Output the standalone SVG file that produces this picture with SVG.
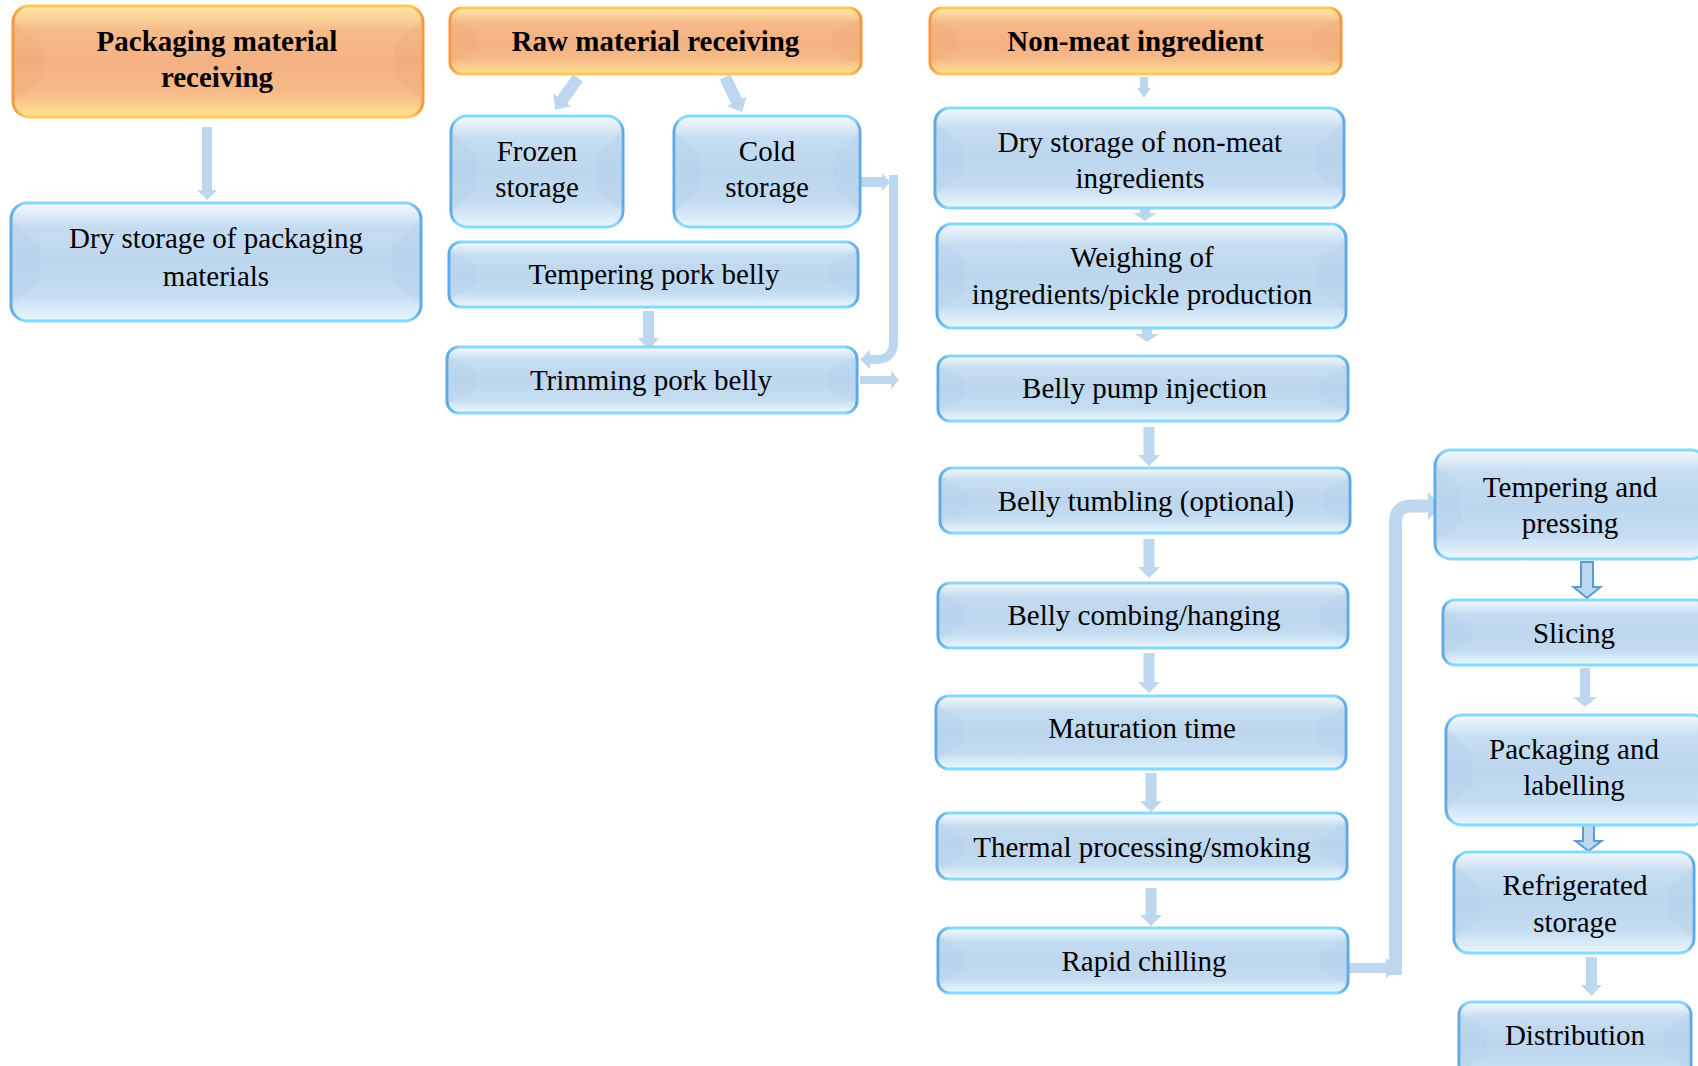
<svg xmlns="http://www.w3.org/2000/svg" width="1698" height="1066" viewBox="0 0 1698 1066">
<defs>
<linearGradient id="gBlue" x1="0" y1="0" x2="0" y2="1">
<stop offset="0" stop-color="#f4faff"/>
<stop offset="0.2" stop-color="#c6ddf1"/>
<stop offset="0.5" stop-color="#bcd6ee"/>
<stop offset="0.78" stop-color="#c4dcf1"/>
<stop offset="1" stop-color="#eaf7fe"/>
</linearGradient>
<linearGradient id="gBlueStroke" x1="0" y1="0" x2="1" y2="0">
<stop offset="0" stop-color="#5ea8e6"/>
<stop offset="0.03" stop-color="#88d8f7"/>
<stop offset="0.97" stop-color="#88d8f7"/>
<stop offset="1" stop-color="#5ea8e6"/>
</linearGradient>
<linearGradient id="gOrange" x1="0" y1="0" x2="0" y2="1">
<stop offset="0" stop-color="#ffe9a6"/>
<stop offset="0.22" stop-color="#f6bb8a"/>
<stop offset="0.5" stop-color="#f4b183"/>
<stop offset="0.78" stop-color="#f6ba88"/>
<stop offset="1" stop-color="#ffe28e"/>
</linearGradient>
<linearGradient id="gOrangeStroke" x1="0" y1="0" x2="1" y2="0">
<stop offset="0" stop-color="#f7963f"/>
<stop offset="0.03" stop-color="#ffc85a"/>
<stop offset="0.97" stop-color="#ffc85a"/>
<stop offset="1" stop-color="#f7963f"/>
</linearGradient>
</defs>
<style>
.bx{fill:url(#gBlue);stroke:url(#gBlueStroke);stroke-width:3}
.ox{fill:url(#gOrange);stroke:url(#gOrangeStroke);stroke-width:3}
.bw{fill:#a9c8e6;opacity:0.2}
.ow{fill:#e89a66;opacity:0.16}
.t{font-family:"Liberation Serif","Times New Roman",serif;font-size:29px;fill:#000;text-anchor:middle}
.tb{font-family:"Liberation Serif","Times New Roman",serif;font-size:29px;font-weight:bold;fill:#000;text-anchor:middle}
.ar{fill:#bdd7ee}
.ah{fill:#bdd7ee;stroke:#5b9bd5;stroke-width:2;stroke-linejoin:miter}
.ln{fill:none;stroke:#bdd7ee}
</style>
<rect width="1698" height="1066" fill="#ffffff"/>

<g id="connectors">
<polygon class="ar" points="202,127 212,127 212,190 217,190 207,200 197,190 202,190"/>
<polygon class="ar" transform="translate(578,78) rotate(35.7)" points="-6,0 6,0 6,27 11,27 0,39 -11,27 -6,27"/>
<polygon class="ar" transform="translate(725,77) rotate(-25.9)" points="-6,0 6,0 6,27 11,27 0,39 -11,27 -6,27"/>
<polygon class="ar" points="643,311 654,311 654,338 659,338 648.5,350 638,338 643,338"/>
<polygon class="ar" points="852,177 882,177 882,173 890,182 882,191 882,187 852,187"/>
<path class="ln" stroke-width="9" d="M893.5 175 V342 Q893.5 359.5 876 359.5 H868"/>
<polygon class="ar" points="870,350 860,359.5 870,369"/>
<polygon class="ar" points="860,376 891,376 891,371 899,380 891,389 891,384 860,384"/>
<polygon class="ar" points="1140,77 1148,77 1148,88 1151,88 1144,98 1137,88 1140,88"/>
<polygon class="ar" points="1140,205 1150,205 1150,213 1157,213 1145,221 1133,213 1140,213"/>
<polygon class="ar" points="1142,326 1152,326 1152,334 1159,334 1147,342 1135,334 1142,334"/>
<polygon class="ar" points="1143.5,427 1154.5,427 1154.5,455 1160,455 1149,466 1138,455 1143.5,455"/>
<polygon class="ar" points="1143.5,539 1154.5,539 1154.5,567 1160,567 1149,578 1138,567 1143.5,567"/>
<polygon class="ar" points="1143.5,653 1154.5,653 1154.5,682 1160,682 1149,693 1138,682 1143.5,682"/>
<polygon class="ar" points="1145.5,773 1156.5,773 1156.5,801 1162,801 1151,812 1140,801 1145.5,801"/>
<polygon class="ar" points="1145.5,888 1156.5,888 1156.5,915 1162,915 1151,926 1140,915 1145.5,915"/>
<polygon class="ar" points="1347,963 1386,963 1386,958 1398,968 1386,978 1386,973 1347,973"/>
<path class="ln" stroke-width="13" d="M1395.5 975 V522 Q1395.5 506 1411.5 506 H1430"/>
<polygon class="ar" points="1428,492 1442,506 1428,520"/>
<polygon class="ah" points="1581,562 1593,562 1593,587 1600.5,587 1587,598 1573.5,587 1581,587"/>
<polygon class="ar" points="1580,668 1590,668 1590,697 1597,697 1585,707 1573,697 1580,697"/>
<polygon class="ah" points="1583,825 1594,825 1594,841 1601.5,841 1588.5,851 1575.5,841 1583,841"/>
<polygon class="ar" points="1586,957 1597,957 1597,985 1602,985 1591.5,996 1581,985 1586,985"/>
</g>

<g id="n-pkg-recv">
<rect class="ox" x="13" y="6" width="410" height="111" rx="16"/>
<polygon class="ow" points="15,22 42,45 42,78 15,101"/><polygon class="ow" points="421,22 394,45 394,78 421,101"/>
<text class="tb" x="217" y="51">Packaging material</text>
<text class="tb" x="217" y="87">receiving</text>
</g>
<g id="n-dry-pkg">
<rect class="bx" x="11" y="203" width="410" height="118" rx="16"/>
<polygon class="bw" points="13,220 40,245 40,279 13,304"/><polygon class="bw" points="419,220 392,245 392,279 419,304"/>
<text class="t" x="216" y="248">Dry storage of packaging</text>
<text class="t" x="216" y="286">materials</text>
</g>

<g id="n-raw">
<rect class="ox" x="450" y="8" width="411" height="66" rx="12"/>
<polygon class="ow" points="452,17 478,33 478,49 452,65"/><polygon class="ow" points="859,17 833,33 833,49 859,65"/>
<text class="tb" x="655.5" y="51">Raw material receiving</text>
</g>
<g id="n-frozen">
<rect class="bx" x="451" y="116" width="172" height="111" rx="16"/>
<polygon class="bw" points="453,132 478,155 478,188 453,211"/><polygon class="bw" points="621,132 596,155 596,188 621,211"/>
<text class="t" x="537" y="161">Frozen</text>
<text class="t" x="537" y="197">storage</text>
</g>
<g id="n-cold">
<rect class="bx" x="674" y="116" width="186" height="111" rx="16"/>
<polygon class="bw" points="676,132 701,155 701,188 676,211"/><polygon class="bw" points="858,132 833,155 833,188 858,211"/>
<text class="t" x="767" y="161">Cold</text>
<text class="t" x="767" y="197">storage</text>
</g>
<g id="n-temper-pork">
<rect class="bx" x="449" y="242" width="409" height="65" rx="12"/>
<polygon class="bw" points="451,251 477,266 477,283 451,298"/><polygon class="bw" points="856,251 830,266 830,283 856,298"/>
<text class="t" x="654" y="284">Tempering pork belly</text>
</g>
<g id="n-trim">
<rect class="bx" x="447" y="347" width="410" height="66" rx="12"/>
<polygon class="bw" points="449,356 475,372 475,388 449,404"/><polygon class="bw" points="855,356 829,372 829,388 855,404"/>
<text class="t" x="651" y="390">Trimming pork belly</text>
</g>

<g id="n-nonmeat">
<rect class="ox" x="930" y="8" width="411" height="66" rx="12"/>
<polygon class="ow" points="932,17 958,33 958,49 932,65"/><polygon class="ow" points="1339,17 1313,33 1313,49 1339,65"/>
<text class="tb" x="1135.5" y="51">Non-meat ingredient</text>
</g>
<g id="n-dry-nonmeat">
<rect class="bx" x="935" y="108" width="409" height="100" rx="15"/>
<polygon class="bw" points="937,123 963,144 963,172 937,193"/><polygon class="bw" points="1342,123 1316,144 1316,172 1342,193"/>
<text class="t" x="1140" y="152">Dry storage of non-meat</text>
<text class="t" x="1140" y="188">ingredients</text>
</g>
<g id="n-weigh">
<rect class="bx" x="937" y="224" width="409" height="104" rx="15"/>
<polygon class="bw" points="939,240 965,261 965,291 939,312"/><polygon class="bw" points="1344,240 1318,261 1318,291 1344,312"/>
<text class="t" x="1142" y="267">Weighing of</text>
<text class="t" x="1142" y="304">ingredients/pickle production</text>
</g>
<g id="n-pump">
<rect class="bx" x="938" y="356" width="410" height="65" rx="12"/>
<polygon class="bw" points="940,365 966,380 966,397 940,412"/><polygon class="bw" points="1346,365 1320,380 1320,397 1346,412"/>
<text class="t" x="1144.5" y="398">Belly pump injection</text>
</g>
<g id="n-tumble">
<rect class="bx" x="940" y="468" width="410" height="65" rx="12"/>
<polygon class="bw" points="942,477 968,492 968,509 942,524"/><polygon class="bw" points="1348,477 1322,492 1322,509 1348,524"/>
<text class="t" x="1146" y="511">Belly tumbling (optional)</text>
</g>
<g id="n-comb">
<rect class="bx" x="938" y="583" width="410" height="65" rx="12"/>
<polygon class="bw" points="940,592 966,607 966,624 940,639"/><polygon class="bw" points="1346,592 1320,607 1320,624 1346,639"/>
<text class="t" x="1144" y="625">Belly combing/hanging</text>
</g>
<g id="n-matur">
<rect class="bx" x="936" y="696" width="410" height="73" rx="13"/>
<polygon class="bw" points="938,706 964,722 964,743 938,759"/><polygon class="bw" points="1344,706 1318,722 1318,743 1344,759"/>
<text class="t" x="1142" y="738">Maturation time</text>
</g>
<g id="n-thermal">
<rect class="bx" x="937" y="813" width="410" height="66" rx="12"/>
<polygon class="bw" points="939,822 965,838 965,854 939,870"/><polygon class="bw" points="1345,822 1319,838 1319,854 1345,870"/>
<text class="t" x="1142" y="857">Thermal processing/smoking</text>
</g>
<g id="n-rapid">
<rect class="bx" x="938" y="928" width="410" height="65" rx="12"/>
<polygon class="bw" points="940,937 966,952 966,969 940,984"/><polygon class="bw" points="1346,937 1320,952 1320,969 1346,984"/>
<text class="t" x="1144" y="971">Rapid chilling</text>
</g>

<g id="n-temper-press">
<rect class="bx" x="1435" y="450" width="272" height="109" rx="16"/>
<polygon class="bw" points="1437,466 1462,489 1462,520 1437,543"/>
<text class="t" x="1570" y="497">Tempering and</text>
<text class="t" x="1570" y="533">pressing</text>
</g>
<g id="n-slicing">
<rect class="bx" x="1443" y="600" width="265" height="65" rx="12"/>
<polygon class="bw" points="1445,609 1471,624 1471,641 1445,656"/>
<text class="t" x="1574" y="643">Slicing</text>
</g>
<g id="n-pack">
<rect class="bx" x="1446" y="715" width="262" height="110" rx="16"/>
<polygon class="bw" points="1448,731 1473,754 1473,786 1448,809"/>
<text class="t" x="1574" y="759">Packaging and</text>
<text class="t" x="1574" y="795">labelling</text>
</g>
<g id="n-refrig">
<rect class="bx" x="1454" y="852" width="240" height="101" rx="15"/>
<polygon class="bw" points="1456,867 1481,888 1481,917 1456,938"/><polygon class="bw" points="1692,867 1667,888 1667,917 1692,938"/>
<text class="t" x="1575" y="895">Refrigerated</text>
<text class="t" x="1575" y="932">storage</text>
</g>
<g id="n-dist">
<rect class="bx" x="1459" y="1002" width="232" height="80" rx="13"/>
<polygon class="bw" points="1461,1013 1487,1030 1487,1055 1461,1072"/><polygon class="bw" points="1689,1013 1663,1030 1663,1055 1689,1072"/>
<text class="t" x="1575" y="1045">Distribution</text>
</g>
</svg>
